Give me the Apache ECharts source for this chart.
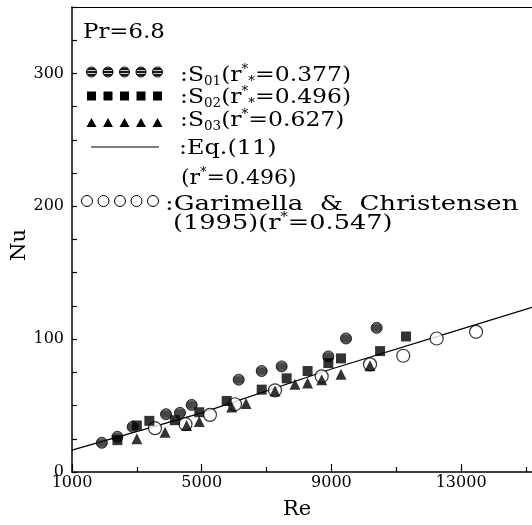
<!DOCTYPE html>
<html>
<head>
<meta charset="utf-8">
<script src="https://cdn.jsdelivr.net/npm/echarts@6/dist/echarts.min.js"></script>
<style>
  html, body { margin: 0; padding: 0; background: #fff; }
  #chart { width: 532px; height: 525px; }
</style>
</head>
<body>
<div id="chart"></div>
<script>
// values (Re, Nu)
const s01 = [[1920, 22], [2400, 26.5], [2870, 34], [3900, 43.5], [4330, 44.5], [4690, 50.5],
  [6140, 69.5], [6850, 76], [7465, 79.5], [8905, 87], [9450, 100.5], [10395, 108.5]];
const s02 = [[2400, 24], [3000, 35], [3385, 38.5], [4175, 39], [4925, 45], [5770, 53.5],
  [6850, 62], [7620, 70.5], [8265, 76], [8905, 82], [9295, 85.5], [10500, 91], [11300, 102]];
const s03 = [[3000, 25], [3870, 30], [4535, 35], [4925, 38], [5925, 49], [6365, 51.5],
  [7260, 61], [7875, 66], [8265, 67], [8700, 69.5], [9295, 73.5], [10190, 80]];
const garimella = [[3560, 33], [4500, 36], [5255, 43], [6025, 51], [7260, 61.5], [8700, 72],
  [10190, 81], [11215, 87.5], [12245, 100.5], [13460, 105.5]];
const eq11 = [[1000, 16.5], [5000, 44.5], [9000, 77.5], [13000, 107.5], [15185, 124]];

const reLabels = [1000, 5000, 9000, 13000];
const reMinor = [3000, 7000, 11000, 15000];
const nuLabels = [0, 100, 200, 300];

const serif = 'DejaVu Serif';
const reMax = 15185;   // the frame is cut off at the right edge of the figure

// striped fill for the S01 markers
function hatch() {
  const c = document.createElement('canvas');
  c.width = 4; c.height = 3;
  const g = c.getContext('2d');
  g.fillStyle = '#1a1a1a';
  g.fillRect(0, 0, 4, 3);
  g.fillStyle = '#c8c8c8';
  g.fillRect(0, 1, 4, 1);
  return c;
}
const hatchFill = {image: hatch(), repeat: 'repeat'};

const rich = {
  sub: {fontSize: 12, lineHeight: 12, verticalAlign: 'bottom', fontFamily: serif, fill: '#000'},
  sup: {fontSize: 12, lineHeight: 12, verticalAlign: 'top', fontFamily: serif, fill: '#000'}
};
// the original typeface is much wider than DejaVu, so stretch each line a bit
const legendText = (x, y, text, sx) => ({
  type: 'text', x: x, y: y, scaleX: sx,
  style: {text: text, fontSize: 21, lineHeight: 24, fontFamily: serif, fill: '#000',
    verticalAlign: 'middle', rich: rich}
});

// legend glyph rows
const legendIcons = [];
for (let i = 0; i < 5; i++) {
  const x = 91.5 + i * 16.5;
  legendIcons.push({type: 'circle', shape: {cx: x, cy: 72, r: 5},
    style: {fill: hatchFill, stroke: '#000', lineWidth: 1}});
  legendIcons.push({type: 'rect', shape: {x: x - 4.5, y: 91.5, width: 9, height: 9},
    style: {fill: '#000'}});
  legendIcons.push({type: 'polygon', shape: {points: [[x, 118], [x - 5, 127], [x + 5, 127]]},
    style: {fill: '#000'}});
  legendIcons.push({type: 'circle', shape: {cx: 87 + i * 16.5, cy: 201, r: 5.5},
    style: {fill: '#fff', stroke: '#000', lineWidth: 1}});
}
legendIcons.push({type: 'line', shape: {x1: 91, y1: 147, x2: 159, y2: 147},
  style: {stroke: '#000', lineWidth: 1}});

const chart = echarts.init(document.getElementById('chart'));

chart.setOption({
  animation: false,
  backgroundColor: '#fff',
  grid: {left: 72, right: 0, top: 7, bottom: 46},
  xAxis: [{
    type: 'value', min: 1000, max: reMax,
    name: 'Re', nameLocation: 'middle', nameGap: 27,
    nameTextStyle: {fontFamily: serif, fontSize: 21, color: '#000', padding: [0, 10, 0, 0]},
    axisLine: {lineStyle: {color: '#000', width: 1.5}},
    axisTick: {inside: true, length: 8, customValues: reLabels, lineStyle: {color: '#000', width: 1.2}},
    axisLabel: {customValues: reLabels, margin: 3, fontFamily: serif, fontSize: 16, color: '#000',
      formatter: v => String(v)},
    splitLine: {show: false}
  }, {
    type: 'value', min: 1000, max: reMax, position: 'bottom',
    axisLine: {show: false},
    axisTick: {inside: true, length: 5, customValues: reMinor, lineStyle: {color: '#000', width: 1.2}},
    axisLabel: {show: false},
    splitLine: {show: false}
  }, {
    // top frame line only
    type: 'value', min: 1000, max: reMax, position: 'top',
    axisLine: {show: true, lineStyle: {color: '#000', width: 1.2}},
    axisTick: {show: false},
    axisLabel: {show: false},
    splitLine: {show: false}
  }],
  yAxis: {
    type: 'value', min: 0, max: 350, interval: 25,
    axisLine: {show: true, lineStyle: {color: '#000', width: 1.5}},
    axisTick: {show: true, inside: true, length: 5, lineStyle: {color: '#000', width: 1.2}},
    axisLabel: {
      margin: 8, fontFamily: serif, fontSize: 16, color: '#000',
      formatter: v => nuLabels.indexOf(v) >= 0 ? String(v) : ''
    },
    splitLine: {show: false}
  },
  graphic: [
    {type: 'text', x: 20, y: 245, rotation: Math.PI / 2,
      style: {text: 'Nu', fontSize: 21, fontFamily: serif, fill: '#000', align: 'center', verticalAlign: 'middle'}},
    {type: 'group', children: legendIcons},
    legendText(83, 33, 'Pr=6.8', 1.09),
    legendText(180, 76, ':S{sub|01}(r{sup|*}{sub|*}=0.377)', 1.12),
    legendText(180, 98, ':S{sub|02}(r{sup|*}{sub|*}=0.496)', 1.12),
    legendText(180, 121, ':S{sub|03}(r{sup|*}=0.627)', 1.12),
    legendText(179, 149, ':Eq.(11)', 1.14),
    legendText(181, 179, '(r{sup|*}=0.496)', 1.05),
    legendText(165, 205, ':Garimella  &  Christensen', 1.24),
    legendText(173, 224, '(1995)(r{sup|*}=0.547)', 1.22)
  ],
  series: [
    {
      name: 'Eq.(11)', type: 'line', data: eq11, symbol: 'none', z: 1,
      lineStyle: {color: '#000', width: 1.2}
    },
    {
      name: 'Garimella & Christensen (1995)', type: 'scatter', data: garimella,
      symbol: 'circle', symbolSize: 13, z: 2,
      itemStyle: {color: '#fff', borderColor: '#000', borderWidth: 1.2}
    },
    {
      name: 'S01', type: 'scatter', data: s01, symbol: 'circle', symbolSize: 11, z: 3,
      itemStyle: {color: hatchFill, borderColor: '#000', borderWidth: 1}
    },
    {
      name: 'S02', type: 'scatter', data: s02, symbol: 'rect', symbolSize: 10, z: 3,
      itemStyle: {color: '#000'}
    },
    {
      name: 'S03', type: 'scatter', data: s03, symbol: 'triangle', symbolSize: 11, z: 3,
      itemStyle: {color: '#000'}
    }
  ]
});
</script>
</body>
</html>
